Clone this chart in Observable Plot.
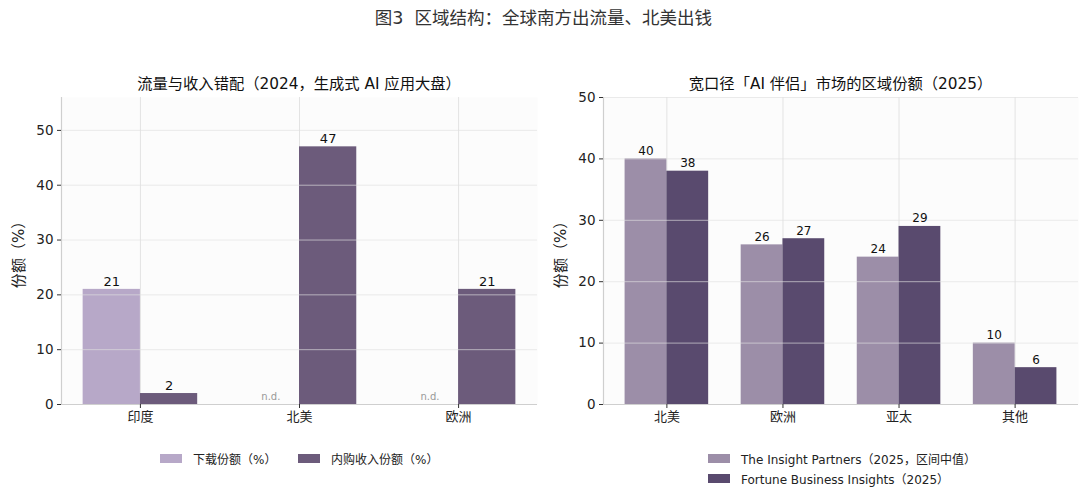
<!DOCTYPE html>
<html><head><meta charset="utf-8">
<script src="https://cdn.jsdelivr.net/npm/d3@7"></script>
<script src="https://cdn.jsdelivr.net/npm/@observablehq/plot@0.6"></script>
<style>
body{margin:0;background:#fff;width:1087px;height:500px;position:relative;overflow:hidden;font-family:"DejaVu Sans","Noto Sans CJK SC",sans-serif;color:#222}
.abs{position:absolute}
.title{left:0;width:1087px;top:4px;text-align:center;font-size:17.5px;color:#333}
.sub{top:71px;font-size:15.3px;text-align:center;color:#111}
.lg{font-size:12px;color:#222;display:flex;align-items:center;white-space:nowrap}
.sw{display:inline-block;width:22px;height:9px;margin-right:11px}
</style></head><body>
<div class="abs title">图3&nbsp;&nbsp;区域结构：全球南方出流量、北美出钱</div>
<div class="abs sub" style="left:61px;width:476px">流量与收入错配（2024，生成式 AI 应用大盘）</div>
<div class="abs sub" style="left:603px;width:475px">宽口径「AI 伴侣」市场的区域份额（2025）</div>
<div id="left" class="abs" style="left:0;top:90px"></div>
<div id="right" class="abs" style="left:545px;top:90px"></div>
<script>
// ---- data ----
const regionsL = ["印度", "北美", "欧洲"];
const downloadShare = [21, null, null];
const iapShare = [2, 47, 21];
const seriesL = ["下载份额（%）", "内购收入份额（%）"];
const colorsL = ["#b7a8c8", "#6c5b7b"];

const regionsR = ["北美", "欧洲", "亚太", "其他"];
const insightPartners = [40, 26, 24, 10];
const fortuneBI = [38, 27, 29, 6];
const seriesR = ["The Insight Partners（2025，区间中值）", "Fortune Business Insights（2025）"];
const colorsR = ["#9c8ea8", "#594a6e"];

const yTicksL = [0, 10, 20, 30, 40, 50];
const yTicksR = [0, 10, 20, 30, 40, 50];

const BW = 0.36;
const FONT = '"DejaVu Sans","Noto Sans CJK SC",sans-serif';

function rowsFor(regions, seriesVals, seriesNames) {
  const rows = [];
  regions.forEach((r, i) => {
    seriesVals.forEach((vals, s) => {
      const x1 = i + (s - 1) * BW;
      rows.push({i, region: r, s, series: seriesNames[s], value: vals[i], x1, x2: x1 + BW, xm: x1 + BW / 2});
    });
  });
  return rows;
}

function chart({regions, rows, colors, names, yMax, yTicks, width, marginLeft, marginRight, labelSize}) {
  const n = regions.length;
  const pad = (n - 1 + 2 * BW) * 0.05;
  const xDom = [-BW - pad, n - 1 + BW + pad];
  const idx = d3.range(n);
  const valid = rows.filter(d => d.value != null);
  const missing = rows.filter(d => d.value == null);
  return Plot.plot({
    width, height: 340, marginLeft, marginRight, marginTop: 7, marginBottom: 26,
    style: {fontFamily: FONT, fontSize: "13px", color: "#222", background: "transparent"},
    x: {domain: xDom},
    y: {domain: [0, yMax]},
    color: {domain: names, range: colors},
    marks: [
      Plot.frame({fill: "#fcfcfc", stroke: null}),
      Plot.gridX(idx, {stroke: "#e3e3e3", strokeOpacity: 1}),
      Plot.rect(valid, {x1: "x1", x2: "x2", y1: 0, y2: "value", fill: "series"}),
      Plot.gridY(yTicks.filter(t => t > 0), {stroke: "#e0e0e0", strokeOpacity: 0.65}),
      Plot.text(valid, {x: "xm", y: "value", text: d => String(d.value), dy: -8, fontSize: labelSize, fill: "#111"}),
      Plot.text(missing, {x: "xm", y: 0, text: () => "n.d.", dy: -8, fontSize: 10, fill: "#999"}),
      Plot.ruleX([xDom[0]], {stroke: "#cfcfcf", strokeWidth: 1.2}),
      Plot.ruleY([0], {stroke: "#cfcfcf", strokeWidth: 1.2}),
      Plot.axisX(idx, {tickFormat: i => regions[i], tickSize: 4, tickPadding: 3, fontSize: 13, label: null, stroke: "#333"}),
      Plot.axisY(yTicks, {tickSize: 4, tickPadding: 4, fontSize: 13.5, label: null, stroke: "#333"}),
      Plot.axisY(yTicks, {tickSize: 0, text: null, fontSize: 15, label: "份额（%）", labelAnchor: "center", labelArrow: "none", labelOffset: 48})
    ]
  });
}

const rowsL = rowsFor(regionsL, [downloadShare, iapShare], seriesL);
const rowsR = rowsFor(regionsR, [insightPartners, fortuneBI], seriesR);

document.getElementById("left").append(chart({regions: regionsL, rows: rowsL, colors: colorsL, names: seriesL, yMax: 56, yTicks: yTicksL, width: 545, marginLeft: 61, marginRight: 8, labelSize: 13}));
document.getElementById("right").append(chart({regions: regionsR, rows: rowsR, colors: colorsR, names: seriesR, yMax: 50, yTicks: yTicksR, width: 542, marginLeft: 58, marginRight: 9, labelSize: 12}));

function legendItem(label, color, left, top) {
  const d = document.createElement("div");
  d.className = "abs lg";
  d.style.left = left + "px"; d.style.top = top + "px";
  d.innerHTML = `<span class="sw" style="background:${color}"></span><span>${label}</span>`;
  document.body.append(d);
}
legendItem(seriesL[0], colorsL[0], 160, 450);
legendItem(seriesL[1], colorsL[1], 298, 450);
legendItem(seriesR[0], colorsR[0], 708, 450);
legendItem(seriesR[1], colorsR[1], 708, 470);
</script>
</body></html>
